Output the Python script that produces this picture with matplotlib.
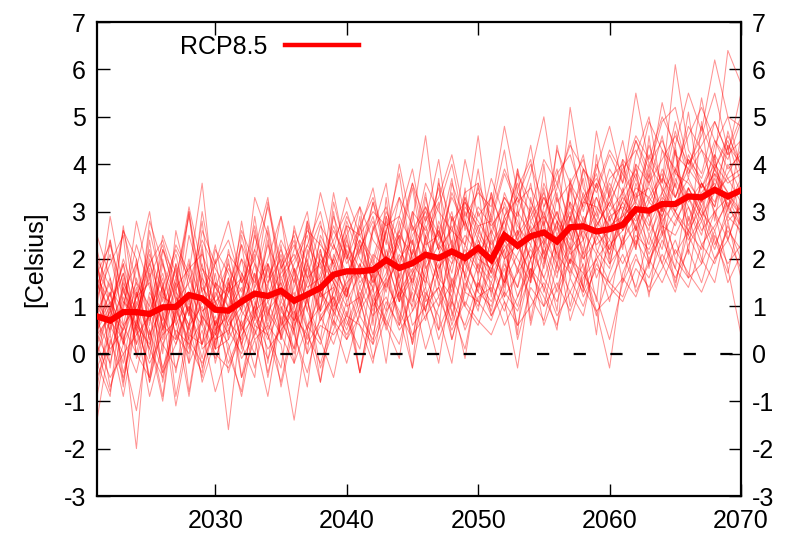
import matplotlib
matplotlib.use("Agg")
import matplotlib.pyplot as plt

plt.rcParams['font.family'] = ['Liberation Sans', 'DejaVu Sans']
plt.rcParams['axes.unicode_minus'] = False

years = list(range(2021, 2071))

ens_mean = [0.79, 0.70, 0.88, 0.88, 0.84, 0.98, 0.99, 1.24, 1.17, 0.93,
            0.91, 1.10, 1.27, 1.22, 1.33, 1.12, 1.25, 1.39, 1.67, 1.74,
            1.74, 1.77, 1.98, 1.81, 1.91, 2.09, 2.02, 2.16, 2.02, 2.23,
            1.98, 2.50, 2.28, 2.48, 2.56, 2.37, 2.67, 2.69, 2.58, 2.63,
            2.72, 3.05, 3.02, 3.16, 3.16, 3.32, 3.30, 3.46, 3.32, 3.45]

m01 = [1.5, 0.9, 2.0, 1.2, 1.9, 1.1, 2.3, 1.7, 3.6, 1.0,
       1.8, 1.3, 2.5, 1.6, 2.2, 1.5, 2.8, 1.9, 2.4, 3.0,
       2.1, 3.2, 2.3, 4.0, 2.6, 3.1, 2.2, 3.4, 2.7, 4.6,
       2.5, 3.3, 2.9, 3.8, 5.0, 3.2, 3.6, 4.1, 3.0, 3.9,
       3.4, 4.5, 3.7, 5.3, 4.2, 3.9, 4.8, 4.1, 6.4, 5.7]
m02 = [-1.4, 0.3, -0.5, 0.6, -0.9, 0.2, 0.8, -0.2, 0.5, -0.8,
       0.1, 0.7, -0.3, 0.9, 0.4, -0.2, 0.6, 0.2, 1.1, 0.5,
       1.3, 0.4, 1.6, 0.8, -0.3, 1.2, 1.9, 0.6, 1.5, 1.0,
       1.8, 1.1, -0.3, 1.6, 2.2, 1.3, 2.0, 1.4, 0.9, -0.3,
       1.7, 2.4, 1.9, 2.8, 1.5, 2.6, 2.2, 3.0, 1.8, 0.4]
m03 = [0.8, 1.6, 0.4, -2.0, 1.2, 0.3, 1.5, 0.9, 1.9, 0.6,
       1.4, 0.2, 1.0, 1.8, 0.7, 1.3, 0.5, 2.1, 1.6, 1.2,
       2.4, 1.5, 2.0, 1.1, 2.7, 1.8, 2.3, 3.0, 1.6, 2.5,
       2.0, 2.8, 1.7, 3.1, 2.4, 1.9, 2.9, 2.2, 3.3, 2.6,
       3.2, 2.7, 3.6, 3.0, 3.9, 3.3, 2.8, 3.7, 3.1, 3.5]
m04 = [2.2, 1.0, 1.7, 0.5, 2.6, 1.4, 0.7, 1.9, 1.1, 2.3,
       0.9, 2.0, 1.5, 2.7, 1.2, 1.9, 2.5, 1.3, 2.9, 2.1,
       1.6, 2.6, 3.1, 1.9, 2.8, 4.6, 2.4, 3.3, 2.7, 2.2,
       3.4, 2.5, 3.9, 2.8, 3.3, 2.6, 5.2, 3.5, 2.9, 3.7,
       4.0, 3.2, 4.4, 3.6, 6.1, 4.3, 3.8, 4.9, 4.2, 5.5]
m05 = [0.1, -0.8, 0.6, 0.0, -0.5, 0.9, -1.1, 0.4, 0.2, 0.8,
       -0.2, 0.5, 1.0, -0.4, 0.7, 0.1, 1.2, -0.6, 0.9, 1.4,
       -0.4, 1.1, 0.6, 1.5, 0.2, 1.3, 0.8, -0.2, 1.7, 1.1,
       0.7, 1.6, 1.0, 2.0, 0.6, 1.4, 2.2, 1.2, 1.8, 1.5,
       2.1, 1.4, 2.5, 1.9, 1.3, 2.3, 2.8, 2.0, 2.6, 2.2]
m06 = [1.0, 0.5, 1.4, 0.2, 0.9, 1.7, 0.6, 1.2, -0.3, 0.7,
       -1.6, 0.8, 1.3, 0.4, 1.6, 0.9, 0.3, 1.5, 2.0, 1.1,
       1.7, 0.9, 2.2, 1.4, 1.0, 2.5, 1.6, 1.2, 2.3, 1.8,
       1.3, 2.4, 2.0, 1.5, 2.7, 2.1, 1.7, 2.9, 2.3, 2.6,
       2.8, 3.4, 2.5, 3.1, 2.7, 3.5, 3.0, 2.6, 3.3, 2.9]
m07 = [1.8, 1.2, 2.6, 1.5, 1.0, 2.2, 1.6, 2.9, 1.3, 1.9,
       2.4, 1.5, 2.0, 3.1, 1.8, 2.3, 1.6, 2.7, 2.2, 3.3,
       2.5, 2.0, 3.0, 2.4, 3.6, 2.8, 3.3, 4.2, 2.9, 3.4,
       3.1, 4.8, 3.4, 3.0, 4.1, 3.6, 4.4, 3.9, 3.5, 4.3,
       3.8, 4.6, 4.1, 5.0, 4.4, 5.5, 4.7, 6.2, 5.0, 4.8]
m08 = [0.6, 1.3, 0.2, 0.9, 1.6, -0.4, 1.1, 0.5, 1.4, 1.0,
       0.4, 1.7, 0.9, 1.2, 2.1, 1.0, 1.8, 0.7, 1.3, 2.2,
       1.4, 2.0, 1.3, 2.6, 1.9, 1.5, 2.8, 2.1, 1.7, 3.0,
       2.2, 1.6, 2.5, 3.0, 2.1, 2.8, 2.3, 3.4, 2.6, 2.2,
       3.0, 3.7, 2.9, 3.4, 3.9, 3.2, 3.6, 3.1, 4.0, 3.4]
m09 = [-0.3, 0.4, -0.9, 0.7, 0.1, -0.5, 0.9, 0.3, -0.2, 0.5,
       0.8, -0.1, 0.4, 1.0, -0.7, 0.6, 1.1, 0.3, -0.5, 0.9,
       -0.4, 1.2, 0.7, 0.2, 1.4, 0.9, -0.2, 1.6, 1.0, 0.6,
       1.5, 0.9, 1.8, 1.2, 0.7, 1.9, 1.3, 0.8, 2.1, 1.5,
       1.2, 2.0, 1.6, 2.4, 1.8, 1.4, 2.3, 1.9, 2.7, 2.0]
m10 = [1.3, 2.1, 0.8, 1.5, 0.3, 1.9, 1.2, 0.6, 1.8, 1.4,
       1.0, 2.3, 1.6, 0.8, 1.9, 2.5, 1.2, 2.0, 1.5, 2.8,
       2.0, 1.6, 2.9, 2.2, 1.7, 3.1, 2.5, 2.0, 3.3, 2.6,
       2.1, 3.4, 2.7, 2.3, 3.6, 2.9, 2.4, 3.2, 3.8, 2.8,
       3.3, 2.9, 4.0, 3.5, 3.0, 4.2, 3.6, 3.2, 3.8, 4.3]
m11 = [0.4, -0.2, 1.1, 0.8, 2.0, 0.5, 1.3, 0.9, 0.2, 1.5,
       1.2, 0.6, 0.0, 1.4, 0.9, 1.7, 0.6, 1.0, 1.8, 1.3,
       1.9, 1.2, 1.7, 2.4, 1.1, 2.0, 2.6, 1.5, 2.2, 1.7,
       2.6, 2.0, 2.3, 1.7, 2.9, 2.4, 3.0, 2.1, 2.7, 3.2,
       2.6, 3.3, 3.5, 2.8, 3.2, 3.7, 3.1, 3.9, 3.4, 3.0]
m12 = [0.9, 1.5, -0.6, 1.1, 0.4, 1.0, 1.8, 0.3, 1.2, 0.1,
       1.5, 0.9, 1.9, 0.5, 1.1, 0.7, 1.5, 2.2, 0.8, 1.6,
       2.3, 1.0, 1.5, 2.0, 2.4, 0.9, 2.1, 2.7, 1.3, 2.4,
       1.7, 2.9, 2.2, 2.6, 1.8, 3.3, 2.5, 2.0, 2.8, 2.4,
       3.5, 2.6, 3.2, 2.9, 3.6, 2.7, 3.4, 3.8, 2.9, 3.6]
m13 = [0.3, 0.9, 0.5, 1.4, -0.6, 0.8, 0.2, 1.0, 0.6, -0.1,
       0.7, 1.2, 0.3, 0.6, 0.2, -1.4, 0.5, 1.3, 0.9, 0.4,
       1.0, 1.7, 0.5, 1.3, 1.8, 1.1, 1.4, 0.7, 2.0, 1.3,
       1.0, 1.9, 1.4, 2.3, 1.6, 1.1, 2.0, 1.7, 2.5, 1.9,
       2.3, 2.7, 2.0, 2.5, 3.0, 2.4, 2.9, 2.2, 3.1, 2.7]
m14 = [2.0, 1.4, 0.9, 2.8, 1.6, 2.3, 1.1, 1.5, 2.4, 1.8,
       1.3, 2.6, 1.9, 1.4, 2.9, 1.7, 2.3, 3.0, 1.8, 2.5,
       3.1, 2.4, 2.0, 3.3, 2.7, 2.2, 3.6, 2.8, 3.2, 2.5,
       3.7, 2.9, 3.3, 4.0, 3.1, 3.6, 2.8, 3.9, 3.4, 4.2,
       3.6, 5.5, 4.0, 4.5, 3.8, 4.8, 4.3, 3.9, 4.6, 4.0]
m15 = [0.5, 1.0, 1.9, 0.0, 1.3, 0.7, 1.6, 0.4, 1.1, 0.9,
       1.6, 0.5, 1.4, 1.9, 0.3, 1.2, 2.0, 0.9, 1.5, 1.0,
       1.2, 2.1, 1.8, 0.6, 2.2, 1.6, 1.0, 2.3, 1.9, 1.4,
       2.4, 1.5, 2.1, 2.7, 1.3, 2.5, 1.9, 2.8, 1.6, 2.3,
       2.6, 3.0, 2.3, 3.4, 2.9, 2.5, 3.3, 3.6, 2.8, 3.1]
m16 = [-0.5, 0.2, 1.2, 0.5, -0.2, 0.4, 0.7, -0.9, 0.8, 0.3,
       0.5, 0.0, 0.9, 0.3, 1.0, 0.4, -0.4, 0.8, 0.2, 1.1,
       -0.4, 0.8, 1.2, 0.5, 0.9, 1.4, 0.3, 1.1, 0.6, 1.5,
       0.8, 1.3, 0.9, 1.7, 1.2, 0.6, 1.6, 1.0, 1.9, 1.4,
       1.1, 1.8, 1.4, 2.1, 1.6, 2.2, 1.5, 2.5, 1.9, 2.3]
m17 = [1.1, 0.6, 1.3, 1.9, 0.8, 1.4, 2.2, 1.6, 0.9, 1.2,
       1.9, 1.1, 2.2, 1.5, 2.4, 1.8, 1.1, 1.7, 2.6, 2.0,
       2.7, 3.3, 2.4, 1.8, 3.0, 2.6, 3.5, 2.3, 4.1, 2.9,
       3.3, 2.6, 3.8, 3.2, 2.7, 4.3, 3.6, 3.1, 4.0, 3.3,
       4.1, 3.7, 4.9, 4.3, 3.9, 4.6, 5.2, 4.5, 4.1, 4.9]
m18 = [0.7, 0.1, 0.5, 1.2, 1.5, 0.6, 0.3, 1.7, 0.8, 0.4,
       0.9, 1.4, 0.6, 1.1, 1.5, 0.8, 1.9, 1.2, 1.4, 2.4,
       1.5, 1.9, 1.4, 2.1, 1.5, 2.4, 1.8, 2.2, 2.8, 2.0,
       1.8, 2.2, 2.6, 2.0, 2.4, 3.0, 2.2, 2.6, 2.1, 2.9,
       3.1, 2.8, 3.3, 3.8, 3.0, 3.5, 2.9, 3.4, 3.7, 3.2]
m19 = [0.0, 0.7, 0.3, -0.4, 0.9, 0.2, -0.3, 0.6, 1.0, 0.1,
       0.3, 0.9, 0.5, -0.1, 0.6, 1.0, 0.2, 0.7, 1.2, 0.3,
       0.8, 0.3, 1.1, 0.6, 1.3, 0.1, 1.0, 1.5, 0.5, 1.2,
       1.4, 0.6, 1.2, 1.8, 1.0, 1.5, 0.9, 1.7, 1.2, 0.3,
       1.5, 2.1, 1.3, 1.8, 2.4, 1.6, 1.9, 2.6, 1.5, 2.1]
m20 = [1.6, 1.1, 0.6, 1.0, 2.1, 1.3, 0.8, 2.5, 1.5, 0.6,
       1.3, 1.6, 2.7, 1.2, 1.7, 2.1, 1.4, 1.6, 2.3, 1.7,
       2.2, 2.8, 1.9, 2.5, 2.1, 2.9, 2.2, 2.6, 2.3, 3.1,
       2.7, 3.1, 2.4, 2.9, 3.4, 2.5, 3.2, 2.7, 3.6, 3.0,
       3.4, 3.9, 3.2, 3.7, 3.3, 4.1, 3.5, 4.0, 3.6, 3.8]
m21 = [0.4, 0.8, 1.7, 0.6, 0.2, 1.2, 1.0, 0.1, 1.6, 1.1,
       0.6, 1.0, 1.7, 0.9, 1.3, 0.5, 1.6, 1.9, 1.0, 1.5,
       1.8, 1.4, 2.6, 1.2, 1.7, 2.2, 1.2, 1.9, 2.5, 2.1,
       1.6, 2.3, 1.8, 2.5, 2.0, 2.7, 2.1, 2.4, 3.0, 2.2,
       2.9, 3.2, 2.7, 3.3, 3.0, 2.6, 3.6, 3.0, 3.3, 2.7]
m22 = [0.2, -0.5, 0.0, 0.4, 0.8, -0.3, 0.5, 0.2, 0.7, 0.0,
       -0.3, 0.4, 0.8, 0.1, 0.5, 0.9, 0.0, 0.6, 0.4, 0.8,
       0.6, 0.2, 0.9, 1.3, 0.4, 0.8, 1.2, 0.5, 1.1, 0.7,
       0.4, 1.1, 0.6, 1.0, 1.5, 0.8, 1.3, 1.9, 0.9, 1.2,
       1.6, 1.2, 2.0, 1.5, 2.2, 1.7, 1.3, 2.0, 2.4, 1.8]
m23 = [2.1, -0.3, 1.6, 0.2, 2.4, 0.5, 1.9, -0.2, 2.2, 0.4,
       2.0, 0.1, 2.6, 0.7, 2.3, 0.4, 2.8, 0.9, 3.0, 1.2,
       2.9, 0.6, 3.3, 1.1, 3.0, 1.4, 3.7, 1.0, 3.5, 1.6,
       3.4, 1.2, 3.9, 1.5, 4.0, 1.8, 3.6, 1.3, 4.2, 2.0,
       4.1, 2.2, 4.6, 2.5, 4.3, 2.1, 4.9, 2.8, 4.4, 2.6]
m24 = [1.7, 2.3, 1.3, 0.8, 1.9, 2.4, 1.4, 1.8, 2.1, 1.4,
       2.1, 1.7, 1.2, 2.3, 1.6, 2.0, 2.6, 2.3, 1.9, 2.7,
       2.5, 3.0, 2.7, 2.9, 2.3, 3.6, 3.0, 2.6, 3.4, 3.6,
       2.9, 3.9, 3.2, 3.5, 2.9, 3.8, 4.2, 3.3, 3.7, 3.1,
       3.9, 4.3, 3.6, 4.1, 4.6, 4.0, 4.4, 4.9, 4.2, 4.5]
m25 = [0.9, -0.7, 0.2, 2.0, -0.1, 1.5, -0.9, 0.6, 2.3, 0.1,
       1.6, -0.5, 0.8, 2.4, 0.3, 1.8, 0.0, 2.2, 0.9, 2.7,
       1.1, 0.2, 2.9, 1.4, -0.3, 2.5, 3.2, 0.8, 2.0, 3.6,
       1.2, 2.6, 0.4, 3.3, 2.1, 0.9, 3.7, 2.4, 1.1, 3.5,
       2.2, 4.0, 1.8, 3.2, 4.4, 2.5, 1.9, 4.1, 3.0, 4.6]
m26 = [1.9, 0.4, 2.7, 0.9, 0.1, 2.2, 1.3, 3.0, 0.6, 1.7,
       0.3, 2.5, 1.4, 3.2, 1.9, 0.6, 2.7, 1.5, 3.4, 2.0,
       3.1, 1.3, 2.6, 3.8, 1.9, 2.8, 4.1, 2.2, 3.3, 1.8,
       3.0, 4.3, 2.5, 3.6, 1.9, 4.4, 3.1, 2.4, 4.7, 3.3,
       2.6, 4.2, 5.0, 3.4, 4.7, 3.7, 5.4, 3.9, 4.5, 3.6]
m27 = [-0.7, 0.8, -0.2, 1.3, 0.3, -1.0, 1.0, 0.2, -0.4, 1.5,
       0.0, -0.8, 1.1, 0.4, -0.3, 1.6, 0.5, -0.6, 1.4, 0.7,
       0.1, 1.8, 0.6, -0.1, 1.7, 0.9, 2.1, 0.3, 1.4, 2.3,
       0.8, 1.5, 2.6, 0.6, 1.9, 2.8, 1.0, 2.2, 0.4, 2.9,
       1.5, 2.7, 1.2, 3.1, 2.0, 1.6, 3.3, 2.4, 1.7, 3.0]
m28 = [1.4, 2.4, 0.6, 1.8, 3.0, 1.2, 2.1, 0.8, 2.6, 1.9,
       2.8, 1.5, 2.2, 3.3, 1.4, 2.6, 1.9, 3.4, 2.3, 1.6,
       2.6, 3.5, 2.0, 2.9, 3.9, 2.4, 3.1, 4.0, 2.6, 3.5,
       2.8, 3.8, 3.1, 4.4, 2.7, 3.5, 4.5, 3.0, 3.9, 4.8,
       3.6, 4.5, 3.9, 4.9, 5.2, 4.0, 4.6, 5.5, 4.3, 5.0]
m29 = [0.5, 1.3, -0.4, 0.7, 1.7, -0.6, 0.9, 2.0, 0.1, 0.4,
       1.5, 0.2, -0.5, 1.9, 1.0, 0.1, 2.2, 1.3, 0.6, 2.5,
       1.0, 2.7, 1.9, 0.7, 2.4, 1.2, 0.5, 2.9, 1.6, 0.9,
       2.5, 1.4, 3.1, 0.7, 2.3, 3.4, 1.6, 2.7, 3.6, 1.9,
       3.0, 2.2, 3.8, 2.7, 1.8, 3.5, 2.9, 4.2, 2.4, 3.3]
m30 = [1.2, 1.9, 2.5, -0.1, 0.9, 1.6, -0.4, 1.3, 0.2, 2.0,
       0.5, 1.2, 2.1, -0.2, 1.8, 2.4, 0.9, 0.3, 2.1, 1.4,
       2.7, 1.6, 0.9, 2.8, 1.4, 3.3, 2.2, 1.3, 3.0, 2.4,
       1.7, 3.2, 2.4, 1.6, 3.5, 2.0, 2.9, 3.7, 2.2, 1.8,
       3.4, 2.6, 3.9, 3.0, 4.3, 2.8, 3.6, 3.1, 4.7, 3.8]
m31 = [0.3, 2.4, 1.1, 0.6, 1.8, 0.0, 2.6, 1.4, 0.7, 2.2,
       1.7, 0.9, 2.9, 1.1, 0.4, 2.7, 1.6, 0.9, 3.2, 2.1,
       0.8, 2.6, 3.6, 1.5, 2.1, 3.4, 1.4, 2.9, 2.3, 3.9,
       2.1, 1.5, 3.5, 4.1, 2.3, 3.0, 1.9, 3.9, 2.6, 3.4,
       4.5, 3.1, 2.6, 4.3, 3.5, 5.1, 3.2, 4.4, 5.0, 3.9]
m32 = [-0.9, 0.6, 0.0, -1.2, 0.5, -0.4, 0.2, 1.1, -0.6, 0.3,
       1.0, -0.5, 0.3, -0.9, 0.8, 0.0, 1.2, -0.3, 0.5, 1.4,
       0.6, -0.2, 1.5, 0.9, 0.3, 1.9, 0.5, 1.2, -0.1, 1.6,
       0.9, 2.0, 0.3, 1.4, 1.0, 2.3, 0.7, 1.6, 2.0, 1.1,
       2.5, 1.3, 1.9, 2.6, 1.4, 2.9, 2.0, 1.5, 2.8, 1.6]
m33 = [2.5, 1.6, 0.3, 1.2, 2.2, 0.8, 1.5, 3.1, 1.8, 1.1,
       1.4, 2.3, 0.7, 1.9, 1.3, 2.2, 3.0, 1.2, 2.0, 2.9,
       2.3, 1.5, 2.6, 3.3, 2.0, 2.7, 1.6, 3.6, 2.8, 2.1,
       2.6, 3.3, 2.8, 2.0, 3.1, 3.9, 2.5, 3.3, 2.8, 3.6,
       3.0, 4.0, 3.6, 4.6, 3.3, 4.1, 3.7, 4.5, 3.9, 4.2]
m34 = [0.2, 0.9, 1.9, 0.8, -0.5, 1.4, 0.4, 0.0, 1.7, -0.2,
       0.9, 1.6, 0.4, 1.5, 2.0, 0.7, 1.3, 2.4, 1.5, 0.8,
       1.9, 1.1, 1.6, 2.5, 0.9, 1.7, 2.7, 1.4, 2.1, 1.3,
       2.9, 2.1, 1.4, 2.8, 2.3, 1.6, 3.2, 2.0, 2.4, 3.0,
       2.3, 3.6, 2.8, 2.2, 3.7, 3.1, 2.5, 3.8, 3.4, 2.9]
m35 = [1.6, 0.0, 1.0, 2.3, 1.4, 0.4, 1.9, 1.1, 2.8, 0.5,
       1.3, 2.0, 0.8, 2.6, 1.1, 1.8, 0.9, 2.5, 1.9, 1.2,
       2.2, 2.9, 1.8, 2.3, 3.5, 1.9, 2.6, 1.7, 3.1, 2.7,
       1.9, 2.9, 3.6, 2.4, 3.0, 2.1, 3.4, 4.2, 2.7, 3.2,
       3.8, 3.3, 4.2, 3.6, 4.9, 3.8, 4.3, 3.5, 4.4, 4.0]
m36 = [0.6, 1.1, 0.2, 1.6, 0.7, 2.0, 0.3, 1.0, -0.1, 1.3,
       0.7, 0.3, 1.7, 0.6, 1.4, -0.2, 1.9, 0.8, 1.2, 0.6,
       1.4, 0.8, 2.0, 1.1, 1.6, 0.7, 1.8, 2.4, 1.0, 1.9,
       1.5, 2.2, 1.2, 2.0, 2.8, 1.7, 2.3, 1.4, 2.6, 2.1,
       2.8, 2.3, 3.0, 1.9, 2.8, 3.3, 2.6, 3.0, 2.4, 3.2]
m37 = [1.0, 2.9, 1.4, 0.4, 2.8, 1.9, 0.9, 3.0, 1.3, 0.2,
       2.2, 1.0, 3.3, 2.5, 0.6, 1.4, 2.3, 1.8, 2.7, 1.9,
       2.4, 1.9, 2.8, 1.6, 2.5, 3.0, 2.3, 1.9, 3.2, 2.8,
       2.3, 2.8, 3.3, 2.6, 2.9, 2.3, 3.5, 2.8, 3.3, 2.6,
       3.2, 3.8, 2.9, 3.9, 3.3, 3.9, 3.5, 4.2, 3.7, 3.9]
m38 = [0.0, 1.0, -0.7, 1.3, 0.5, -0.9, 1.2, 0.6, -0.5, 0.7,
       0.2, -0.9, 0.6, 0.4, -0.6, 0.8, 0.4, -0.2, 0.7, 0.3,
       1.2, -0.1, 0.8, 1.7, 0.2, 2.2, 1.5, 0.9, 0.1, 1.5,
       1.1, 1.8, 0.6, 1.8, 1.4, 0.5, 2.9, 1.8, 0.8, 1.7,
       2.4, 2.9, 2.1, 2.7, 2.5, 3.1, 2.3, 2.7, 3.2, 2.5]
m39 = [1.8, 0.7, 2.6, 2.0, 0.6, 2.5, 1.7, 0.8, 3.0, 1.5,
       0.8, 2.8, 1.2, 2.0, 2.9, 1.0, 2.1, 2.8, 1.1, 2.3,
       1.8, 3.2, 2.0, 2.6, 3.6, 2.3, 2.5, 3.7, 1.9, 2.7,
       2.8, 2.0, 3.0, 2.5, 3.3, 2.8, 2.2, 3.2, 3.1, 2.7,
       2.9, 3.5, 3.3, 2.9, 3.8, 3.6, 3.2, 3.9, 3.1, 3.7]
m40 = [-0.2, -0.9, 1.5, 0.9, -0.6, 0.6, 1.4, -0.8, 0.9, 1.1,
       -0.4, 0.6, 1.2, -0.5, 0.9, 0.5, -0.7, 1.4, 0.7, -0.2,
       0.9, 1.4, -0.2, 1.9, 0.6, 1.0, 1.4, 0.3, 1.3, 1.1,
       1.9, 1.2, 1.7, 2.2, 1.6, 2.4, 1.8, 1.3, 2.0, 2.4,
       1.9, 2.5, 2.2, 2.9, 2.1, 2.6, 3.1, 2.3, 2.9, 2.6]

members = [m01, m02, m03, m04, m05, m06, m07, m08, m09, m10,
           m11, m12, m13, m14, m15, m16, m17, m18, m19, m20,
           m21, m22, m23, m24, m25, m26, m27, m28, m29, m30,
           m31, m32, m33, m34, m35, m36, m37, m38, m39, m40]

legend_label = "RCP8.5"
y_label = "[Celsius]"
x_ticks = [2030, 2040, 2050, 2060, 2070]
y_ticks = [-3, -2, -1, 0, 1, 2, 3, 4, 5, 6, 7]

fig = plt.figure(figsize=(7.97, 5.33), dpi=100)
ax = fig.add_axes([97/797, 1 - 496/533, (741-97)/797, (496-22)/533])

for m in members:
    ax.plot(years, m, color=(1, 0, 0), alpha=0.42, lw=0.75, zorder=2)

ax.axhline(0, color='black', lw=1.6, dashes=(5.5, 11), zorder=3)
ax.plot(years, ens_mean, color=(1, 0, 0), lw=4.5, zorder=4,
        solid_joinstyle='miter', label=legend_label)

ax.set_xlim(2021, 2070)
ax.set_ylim(-3, 7)
ax.set_xticks(x_ticks)
ax.set_yticks(y_ticks)
ax.tick_params(axis='both', which='both', direction='in', length=9, width=1.0,
               labelsize=18, top=True, right=True, labelright=True, pad=8)
ax.tick_params(axis='x', pad=9)
for s in ax.spines.values():
    s.set_linewidth(1.6)
ax.set_ylabel(y_label, fontsize=18, labelpad=12)

leg = ax.legend(loc='center left', bbox_to_anchor=((180-97)/644, (496-47)/474),
                frameon=False, markerfirst=False, fontsize=18, handlelength=2.95,
                handletextpad=0.7, borderpad=0, borderaxespad=0)
for h in leg.get_lines():
    h.set_linewidth(3.2)

fig.savefig("out.png", dpi=100)
